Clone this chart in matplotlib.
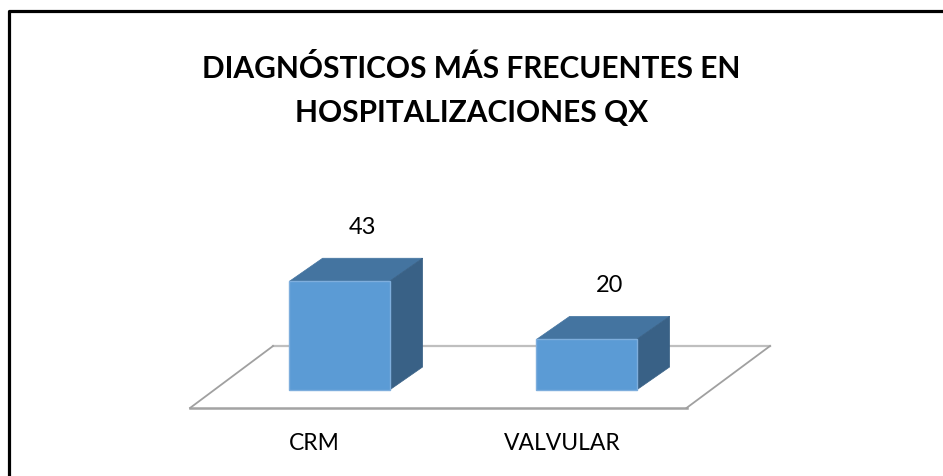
import matplotlib
matplotlib.use("Agg")
import matplotlib.pyplot as plt
from matplotlib.patches import Polygon, Rectangle
from matplotlib.lines import Line2D

categories = ["CRM", "VALVULAR"]
values = [43, 20]
title_lines = ["DIAGNÓSTICOS MÁS FRECUENTES EN", "HOSPITALIZACIONES QX"]

plt.rcParams['font.family'] = ['Lato', 'DejaVu Sans']

FRONT = '#5b9bd5'
TOP = '#4474a0'
SIDE = '#396186'

fig = plt.figure(figsize=(9.43, 4.76), dpi=100)
ax = fig.add_axes([0, 0, 1, 1])
ax.set_xlim(-1.3745, 2.4433)
ax.set_ylim(-34.0, 154.2)
ax.axis('off')

# 3d look
bar_w = 0.405
dx, dy = 0.134, 9.1

# floor plane
fl, fr, fy = -0.605, 1.405, -7.1
bl, br, by = -0.269, 1.743, 17.4
ax.plot([bl, br], [by, by], color='#bfbfbf', lw=1.6, zorder=1)
ax.plot([fl, fr], [fy, fy], color='#a3a3a3', lw=1.8, zorder=1)
ax.plot([fl, bl], [fy, by], color='#a0a0a0', lw=1.3, zorder=1)
ax.plot([fr, br], [fy, by], color='#a0a0a0', lw=1.3, zorder=1)

for i, v in enumerate(values):
    x0 = i - bar_w / 2
    x1 = i + bar_w / 2
    top = Polygon([(x0, v), (x1, v), (x1 + dx, v + dy), (x0 + dx, v + dy)],
                  closed=True, facecolor=TOP, edgecolor=TOP, lw=0.5, zorder=3)
    side = Polygon([(x1, 0), (x1 + dx, dy), (x1 + dx, v + dy), (x1, v)],
                   closed=True, facecolor=SIDE, edgecolor=SIDE, lw=0.5, zorder=3)
    front = Rectangle((x0, 0), bar_w, v, facecolor=FRONT, edgecolor='#7eaedd',
                      lw=1.0, zorder=4)
    ax.add_patch(top)
    ax.add_patch(side)
    ax.add_patch(front)
    ax.annotate(str(v), xy=(i + dx / 2 + 0.025, v + dy), xytext=(0, 22),
                textcoords='offset points', ha='center', va='center',
                fontsize=17, color='black')

# category labels along the front edge of the floor
for j, c in enumerate(categories):
    xc = fl + (j + 0.5) / len(categories) * (fr - fl)
    ax.text(xc, -21.3, c, ha='center', va='center', fontsize=16.5, color='black')

fig.text(0.5, 1 - 69 / 476, title_lines[0], ha='center', va='center',
         fontsize=21.5, fontweight='bold')
fig.text(0.5, 1 - 113 / 476, title_lines[1], ha='center', va='center',
         fontsize=21.5, fontweight='bold')

# chart border (only top and left are visible in the frame)
fig.add_artist(Line2D([9 / 943, 9 / 943, 1.01], [-0.01, 1 - 11 / 476, 1 - 11 / 476],
                      transform=fig.transFigure, color='black', lw=2.3))

fig.savefig('out.png', dpi=100)
